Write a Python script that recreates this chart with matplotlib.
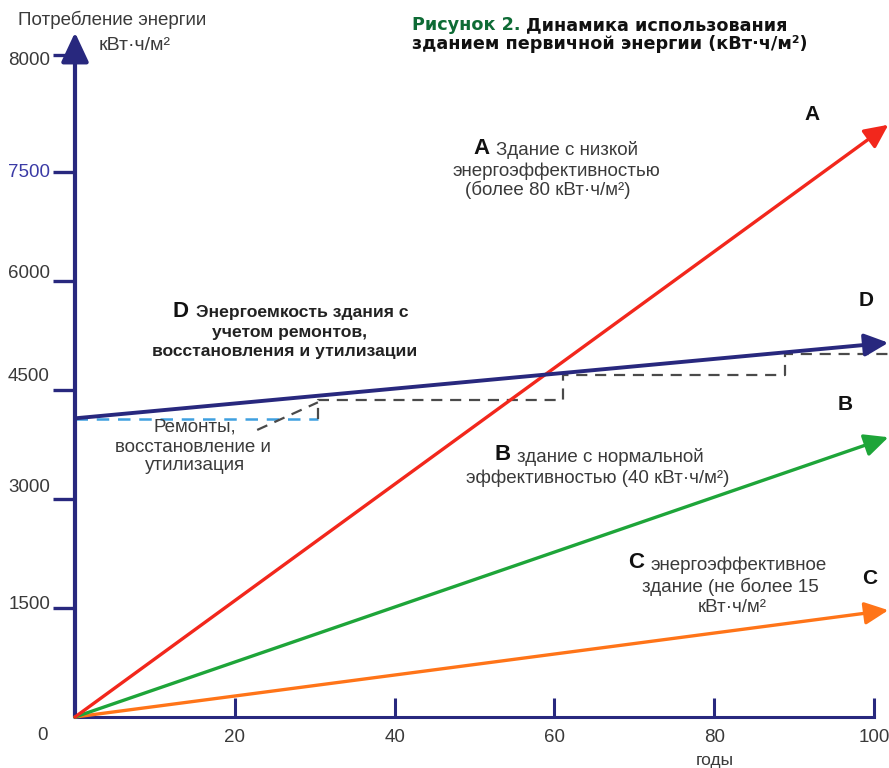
import matplotlib
matplotlib.use("Agg")
import matplotlib.pyplot as plt
from matplotlib.transforms import ScaledTranslation

W, H = 889, 768

# --- data (years / energy) ---
line_years = [0, 101.8]
a_vals = [0, 8150]      # A: low efficiency
b_vals = [0, 3850]      # B: normal efficiency
c_vals = [0, 1470]      # C: energy efficient
d_vals = [4110, 5150]   # D: with repairs / recycling

repair_years = [0, 30.4]
repair_vals = [4100, 4100]
step_years = [30.4, 30.4, 61.1, 61.1, 88.9, 88.9, 101.9]
step_vals = [4100, 4360, 4360, 4705, 4705, 4995, 4995]
pointer_years = [22.8, 30.4]
pointer_vals = [3950, 4330]

x_ticks = [20, 40, 60, 80, 100]
y_ticks = [1500, 3000, 4500, 6000, 7500, 9110]
y_labels = ['1500', '3000', '4500', '6000', '7500', '8000']

NAVY = '#28287e'
RED = '#f2271c'
GREEN = '#1ea539'
ORANGE = '#ff7418'
LBLUE = '#3fa0e0'
GRAY = '#4a4a4a'
TXT = '#3a3a3a'
FS = 13.5

plt.rcParams['font.family'] = ['Liberation Sans', 'DejaVu Sans']

fig = plt.figure(figsize=(W / 100, H / 100), dpi=100)
ax = fig.add_axes([75 / W, 51 / H, (W - 75) / W, 717 / H])
ax.set_xlim(0, (W - 75) / 7.99)
ax.set_ylim(0, 717 / 0.07267)
for s in ['top', 'right', 'left']:
    ax.spines[s].set_visible(False)
ax.spines['bottom'].set_bounds(0, 100)
ax.spines['bottom'].set_color(NAVY)
ax.spines['bottom'].set_linewidth(2.2)

# y axis with arrow
ax.annotate('', xy=(0, 9420), xytext=(0, 0),
            arrowprops=dict(arrowstyle='-|>,head_length=0.9,head_width=0.42',
                            color=NAVY, lw=3.0, mutation_scale=20,
                            shrinkA=0, shrinkB=0), annotation_clip=False)

ax.set_xticks(x_ticks)
ax.set_xticklabels([str(v) for v in x_ticks], fontsize=FS, color=TXT)
ax.tick_params(axis='x', direction='in', length=14, width=2.2, color=NAVY, pad=9)
ax.set_yticks(y_ticks)
ax.set_yticklabels(y_labels, fontsize=FS, color=TXT)
ax.tick_params(axis='y', direction='out', length=16, width=2.4, color=NAVY, pad=2)
ax.yaxis.get_major_ticks()[-1].tick1line.set_color('black')
ylabs = ax.get_yticklabels()
ylabs[4].set_color('#3b3ba6')
for lab, off in zip(ylabs, [5, 13, 15, 9, 1, -4]):
    lab.set_transform(lab.get_transform() + ScaledTranslation(0, off / 100, fig.dpi_scale_trans))
ax.annotate('0', xy=(0, 0), xytext=(-32, -18), textcoords='offset pixels',
            ha='center', va='center', fontsize=FS, color=TXT, annotation_clip=False)


def arrow(years, vals, color, lw=2.4):
    ax.annotate('', xy=(years[-1], vals[-1]), xytext=(years[0], vals[0]),
                arrowprops=dict(arrowstyle='-|>,head_length=0.8,head_width=0.38',
                                color=color, lw=lw, mutation_scale=18,
                                shrinkA=0, shrinkB=0), annotation_clip=False)


ax.plot(repair_years, repair_vals, color=LBLUE, lw=1.8, dashes=(5, 3.5))
ax.plot(step_years, step_vals, color=GRAY, lw=1.6, dashes=(5, 3.5))
ax.plot(pointer_years, pointer_vals, color=GRAY, lw=1.6, dashes=(5, 3.5))
arrow(line_years, c_vals, ORANGE)
arrow(line_years, b_vals, GREEN)
arrow(line_years, a_vals, RED)
arrow(line_years, d_vals, NAVY, lw=2.8)


def t(x, y, s, **kw):
    kw.setdefault('ha', 'center')
    kw.setdefault('va', 'center')
    kw.setdefault('color', TXT)
    kw.setdefault('fontsize', FS)
    fig.text(x / W, 1 - y / H, s, **kw)


# axis titles
t(112, 20, 'Потребление энергии')
t(135, 46, 'кВт·ч/м²', fontsize=14)
t(715, 760, 'годы', fontsize=12.5)

# figure title
title_kw = dict(ha='left', fontsize=12.7, fontweight='bold', family=['DejaVu Sans'])
t(412, 25, 'Рисунок 2.', color='#0e6b35', **title_kw)
t(526, 25, 'Динамика использования', color='#111111', **title_kw)
t(412, 44, 'зданием первичной энергии (кВт·ч/м²)', color='#111111', **title_kw)

# end labels
for x, y, s in [(812, 115, 'A'), (866, 300, 'D'), (845, 405, 'B'), (870, 578, 'C')]:
    t(x, y, s, fontsize=15, fontweight='bold', color='#111111')

# A block
t(482, 148, 'A', fontsize=16, fontweight='bold', color='#111111')
t(496, 150, 'Здание с низкой', ha='left')
t(556, 171, 'энергоэффективностью')
t(548, 190, '(более 80 кВт·ч/м²)')

# D block
t(181, 311, 'D', fontsize=16, fontweight='bold', color='#111111')
t(196, 313, 'Энергоемкость здания с', ha='left', color='#222222',
  fontweight='bold', fontsize=12.6)
t(290, 332, 'учетом ремонтов,', color='#222222', fontweight='bold', fontsize=12.6)
t(285, 352, 'восстановления и утилизации', color='#222222', fontweight='bold',
  fontsize=12.6)

# repairs note
t(195, 427, 'Ремонты,')
t(193, 447, 'восстановление и')
t(195, 466, 'утилизация')

# B block
t(503, 455, 'B', fontsize=16, fontweight='bold', color='#111111')
t(517, 457, 'здание с нормальной', ha='left')
t(598, 478, 'эффективностью (40 кВт·ч/м²)')

# C block
t(636, 563, 'C', fontsize=16, fontweight='bold', color='#111111')
t(650, 565, 'энергоэффективное', ha='left')
t(730, 587, 'здание (не более 15')
t(732, 607, 'кВт·ч/м²')

fig.savefig('out.png', dpi=100)
